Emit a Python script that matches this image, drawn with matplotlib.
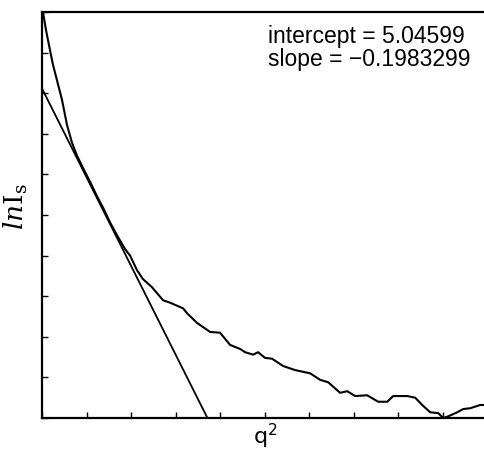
import matplotlib
matplotlib.use('Agg')
import matplotlib.pyplot as plt
import numpy as np

plt.rcParams['mathtext.fontset'] = 'dejavuserif'

# Guinier fit shown on the plot
intercept = 5.04599
slope = -0.1983299

q2 = [0.06, 0.43, 0.93, 1.30, 1.79, 2.41, 3.03, 3.65, 4.27, 5.01, 5.88, 6.74,
      7.49, 8.35, 9.22, 10.21, 10.83, 11.69, 12.43, 13.55, 14.91, 15.78, 17.39,
      17.88, 19.12, 20.73, 21.96, 23.20, 24.44, 25.06, 26.05, 26.66, 27.53,
      28.39, 29.76, 31.24, 33.10, 34.34, 35.33, 36.81, 37.68, 38.67, 40.15,
      41.51, 42.63, 43.37, 45.10, 46.09, 46.96, 47.95, 48.94, 49.55, 50.17,
      51.28, 52.03, 52.89, 53.51, 54.13, 54.75]
lnI = [6.00, 5.78, 5.53, 5.35, 5.16, 4.92, 4.61, 4.39, 4.23, 4.08, 3.91, 3.73,
       3.59, 3.41, 3.25, 3.08, 3.00, 2.82, 2.71, 2.61, 2.45, 2.42, 2.35,
       2.29, 2.17, 2.06, 2.05, 1.90, 1.85, 1.81, 1.78, 1.81, 1.74,
       1.73, 1.64, 1.59, 1.55, 1.47, 1.44, 1.31, 1.33, 1.27, 1.28,
       1.20, 1.20, 1.27, 1.27, 1.25, 1.16, 1.07, 1.06, 1.00, 1.02,
       1.07, 1.11, 1.12, 1.14, 1.16, 1.16]

x_min, x_max = 0, 55
y_min, y_max = 1, 6

fig = plt.figure(figsize=(4.85, 4.51), dpi=100)
ax = fig.add_axes([0.0876, 0.0732, 0.917, 0.9002])

ax.plot(q2, lnI, color='black', lw=1.5)

# fitted straight line, from q^2 = 0 down to the bottom of the axes
q_end = (y_min - intercept) / slope
qf = np.array([0, q_end])
ax.plot(qf, intercept + slope * qf, color='black', lw=1.3)

ax.set_xlim(x_min, x_max)
ax.set_ylim(y_min, y_max)
ax.set_xticks(np.linspace(x_min, x_max, 11))
ax.set_yticks(np.linspace(y_min, y_max, 11))
ax.tick_params(direction='in', length=4.3, width=1.0,
               labelbottom=False, labelleft=False)
ax.spines['right'].set_visible(False)
for s in ['left', 'bottom', 'top']:
    ax.spines[s].set_linewidth(1.6)

ax.text(268 / 485, 1 - 25 / 451, 'intercept = 5.04599\nslope = \u22120.1983299',
        transform=fig.transFigure, ha='left', va='top', fontsize=16.5,
        family='Liberation Sans', linespacing=1.0)

ax.set_ylabel(r'$ln\mathrm{I}_\mathrm{s}$', fontsize=19)
ax.yaxis.set_label_coords(-0.027, 0.52)
ax.set_xlabel(r'$\mathsf{q}^\mathsf{2}$', fontsize=16, labelpad=3)

fig.savefig('out.png', dpi=100)
plt.close()
